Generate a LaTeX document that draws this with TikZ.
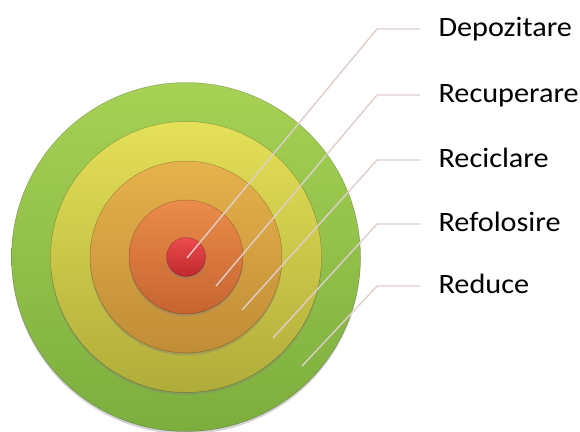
\documentclass[tikz,border=0pt]{standalone}
\usepackage{fontspec}
\setmainfont{Carlito}
\usetikzlibrary{shadows,positioning}

\definecolor{greentop}{RGB}{166,209,84}
\definecolor{greenbot}{RGB}{124,174,62}
\definecolor{yellowtop}{RGB}{228,224,88}
\definecolor{yellowbot}{RGB}{176,172,58}
\definecolor{goldtop}{RGB}{230,178,76}
\definecolor{goldbot}{RGB}{192,140,54}
\definecolor{orangetop}{RGB}{234,140,74}
\definecolor{orangebot}{RGB}{198,100,48}
\definecolor{redtop}{RGB}{236,76,78}
\definecolor{redbot}{RGB}{190,40,44}
\definecolor{leader}{RGB}{222,206,202}

\tikzset{
  ring/.style={circle, inner sep=0pt, draw=black, draw opacity=0.25, line width=0.5pt,
    drop shadow={shadow xshift=0pt, shadow yshift=-2.5pt, opacity=0.35}},
  lbl/.style={anchor=base west, inner xsep=17pt, inner ysep=0pt, xscale=1.08,
    font=\fontsize{28}{33}\selectfont},
  leaderline/.style={draw=leader, line width=1.4pt}
}

\begin{document}
\begin{tikzpicture}[x=1pt,y=-1pt]
  \useasboundingbox (0,0) rectangle (580,431);
  \coordinate (c) at (186,257);

  % the rings, outside first
  \node[ring, minimum size=349pt, top color=greentop, bottom color=greenbot] (reduce) at (c) {};
  \node[ring, minimum size=271pt, top color=yellowtop, bottom color=yellowbot] (refolosire) at (c) {};
  \node[ring, minimum size=192pt, top color=goldtop, bottom color=goldbot] (reciclare) at (c) {};
  \node[ring, minimum size=114pt, top color=orangetop, bottom color=orangebot] (recuperare) at (c) {};
  \node[ring, minimum size=39pt, top color=redtop, bottom color=redbot] (depozitare) at (c) {};

  % labels
  \node[lbl] (l1) at (420,36.5) {Depozitare};
  \node[lbl] (l2) at (420,102.5) {Recuperare};
  \node[lbl] (l3) at (420,167.5) {Reciclare};
  \node[lbl] (l4) at (420,231.5) {Refolosire};
  \node[lbl] (l5) at (420,293.5) {Reduce};

  % leader lines
  \coordinate (t1) at (187,258);  \coordinate (b1) at (377,29);
  \coordinate (t2) at (216,286);  \coordinate (b2) at (377,95);
  \coordinate (t3) at (242,310);  \coordinate (b3) at (377,160);
  \coordinate (t4) at (273,338);  \coordinate (b4) at (377,224);
  \coordinate (t5) at (302,366);  \coordinate (b5) at (377,286);
  \foreach \i in {1,...,5}
    \draw[leaderline] (t\i) -- (b\i) -- (b\i -| l\i.west);
\end{tikzpicture}
\end{document}
